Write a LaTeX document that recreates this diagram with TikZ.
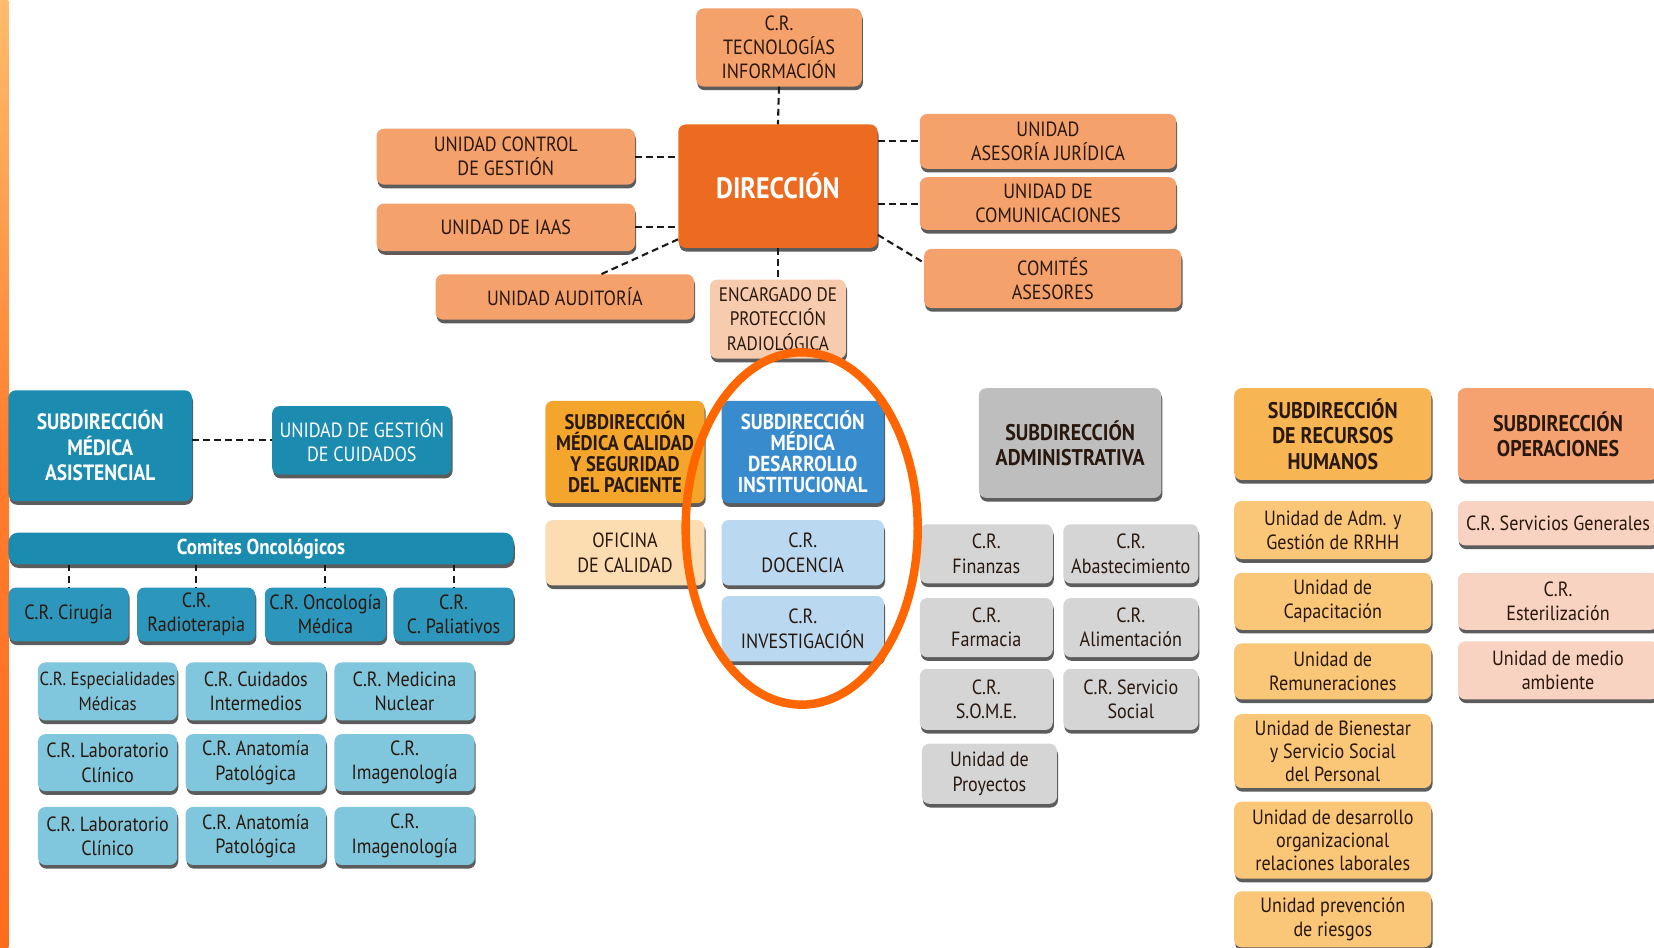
\documentclass[tikz,border=0pt]{standalone}
\usepackage{fontspec}
\setmainfont{PT Sans}[FakeStretch=0.88]
\usetikzlibrary{shadows}

\begin{document}
\begin{tikzpicture}[x=1pt, y=-1pt, line cap=round, line join=round,
  box/.style={rectangle, rounded corners=7pt, align=center, inner sep=1pt, text=txt,
    font=\fontsize{19.5}{23}\selectfont,
    drop shadow={shadow xshift=1pt, shadow yshift=-3.5pt, fill=black!85, opacity=0.75}},
  head/.style={box, font=\bfseries\fontsize{21}{24}\selectfont},
  wh/.style 2 args={minimum width=#1, minimum height=#2},
  link/.style={line width=2pt, dash pattern=on 6.5pt off 4pt, black!90, line cap=butt}]
  \definecolor{txt}{RGB}{40,24,14}
  \definecolor{dirsoft}{RGB}{244,161,108}
  \definecolor{dirmain}{RGB}{237,107,33}
  \definecolor{dirpale}{RGB}{247,203,174}
  \definecolor{tealdark}{RGB}{28,139,176}
  \definecolor{tealmid}{RGB}{44,150,188}
  \definecolor{teallight}{RGB}{128,199,222}
  \definecolor{calgold}{RGB}{244,166,44}
  \definecolor{calpale}{RGB}{252,221,178}
  \definecolor{desblue}{RGB}{56,139,205}
  \definecolor{despale}{RGB}{186,216,240}
  \definecolor{admgray}{RGB}{190,190,190}
  \definecolor{admpale}{RGB}{213,213,213}
  \definecolor{rhgold}{RGB}{247,181,84}
  \definecolor{rhpale}{RGB}{250,198,120}
  \definecolor{opsalmon}{RGB}{245,162,112}
  \definecolor{oppale}{RGB}{249,211,193}
  \definecolor{ringorange}{RGB}{255,102,0}
  \definecolor{striptop}{RGB}{255,188,108}
  \definecolor{stripbot}{RGB}{255,108,28}
  \useasboundingbox[fill=white] (0,0) rectangle (1568,898);
  \shade[top color=striptop, bottom color=stripbot, middle color=stripbot!80!striptop] (0,0) rectangle (8,898);

  % direccion
  \node[box, wh={157}{74}, fill=dirsoft] (ti) at (738.5,45) {C.R.\\TECNOLOGÍAS\\INFORMACIÓN};
  \node[box, wh={189}{117}, fill=dirmain, text=white, font=\bfseries\fontsize{28}{30}\selectfont] (dir) at (737.5,176.5) {DIRECCIÓN};
  \node[box, wh={245}{53}, fill=dirsoft] (ucg) at (479.5,148.5) {UNIDAD CONTROL\\DE GESTIÓN};
  \node[box, wh={245}{45}, fill=dirsoft] (iaas) at (479.5,215.5) {UNIDAD DE IAAS};
  \node[box, wh={245}{43}, fill=dirsoft] (aud) at (535.5,281.5) {UNIDAD AUDITORÍA};
  \node[box, wh={129}{75}, fill=dirpale, font=\fontsize{18.5}{23.5}\selectfont] (epr) at (737.5,302.5) {ENCARGADO DE\\PROTECCIÓN\\RADIOLÓGICA};
  \node[box, wh={243}{52}, fill=dirsoft] (uaj) at (993.5,134) {UNIDAD\\ASESORÍA JURÍDICA};
  \node[box, wh={243}{50}, fill=dirsoft] (ucom) at (993.5,193) {UNIDAD DE\\COMUNICACIONES};
  \node[box, wh={244}{56}, fill=dirsoft] (ca) at (998,264) {COMITÉS\\ASESORES};

  \draw[link] (ti.south) -- (dir.north);
  \draw[link] (ucg.east) -- (ucg.east -| dir.west);
  \draw[link] (iaas.east) -- (iaas.east -| dir.west);
  \draw[link] (aud.32) -- (dir.208);
  \draw[link] (dir.east |- uaj.west) -- (uaj.west);
  \draw[link] (dir.east |- ucom.west) -- (ucom.west);
  \draw[link] (dir.334) -- (ca.173);
  \draw[link] (dir.south) -- (epr.north);

  % asistencial
  \node[head, wh={174}{105}, fill=tealdark, text=white] (sma) at (95,422.5) {SUBDIRECCIÓN\\MÉDICA\\ASISTENCIAL};
  \node[box, wh={170}{65}, fill=tealdark, text=white] (ugc) at (343,417.5) {UNIDAD DE GESTIÓN\\DE CUIDADOS};
  \draw[link] (sma.east |- ugc.west) -- (ugc.west);
  \node[box, wh={479}{30}, rounded corners=9pt, fill=tealdark, text=white, font=\bfseries\fontsize{20.5}{22}\selectfont] (como) at (247.5,520) {Comites Oncológicos};
  \node[box, wh={114}{51}, fill=tealmid] (cir) at (65,582.5) {C.R. Cirugía};
  \node[box, wh={112}{51}, fill=tealmid] (rad) at (186,582.5) {C.R.\\Radioterapia};
  \node[box, wh={115}{51}, fill=tealmid] (onc) at (308.5,582.5) {C.R. Oncología\\Médica};
  \node[box, wh={114}{51}, fill=tealmid] (pal) at (430,582.5) {C.R.\\C. Paliativos};
  \draw[link] (como.south -| cir.north) -- (cir.north);
  \draw[link] (como.south -| rad.north) -- (rad.north);
  \draw[link] (como.south -| onc.north) -- (onc.north);
  \draw[link] (como.south -| pal.north) -- (pal.north);

  \node[box, wh={132}{55}, fill=teallight, font=\fontsize{18}{23}\selectfont] (esp) at (102,655.5) {C.R. Especialidades\\Médicas};
  \node[box, wh={133}{55}, fill=teallight] (cui) at (242.5,655.5) {C.R. Cuidados\\Intermedios};
  \node[box, wh={133}{55}, fill=teallight] (nuc) at (383.5,655.5) {C.R. Medicina\\Nuclear};
  \node[box, wh={132}{54}, fill=teallight] (laba) at (102,723) {C.R. Laboratorio\\Clínico};
  \node[box, wh={133}{54}, fill=teallight] (anaa) at (242.5,723) {C.R. Anatomía\\Patológica};
  \node[box, wh={133}{54}, fill=teallight] (imga) at (383.5,723) {C.R.\\Imagenología};
  \node[box, wh={132}{55}, fill=teallight] (labb) at (102,792.5) {C.R. Laboratorio\\Clínico};
  \node[box, wh={133}{55}, fill=teallight] (anab) at (242.5,792.5) {C.R. Anatomía\\Patológica};
  \node[box, wh={133}{55}, fill=teallight] (imgb) at (383.5,792.5) {C.R.\\Imagenología};

  % calidad y desarrollo
  \node[head, wh={151}{97}, fill=calgold, font=\bfseries\fontsize{20}{20}\selectfont] (smc) at (592.5,428.5) {SUBDIRECCIÓN\\MÉDICA CALIDAD\\Y SEGURIDAD\\DEL PACIENTE};
  \node[box, wh={151}{62}, fill=calpale] (ofc) at (592.5,524) {OFICINA\\DE CALIDAD};
  \node[head, wh={154}{97}, fill=desblue, text=white, font=\bfseries\fontsize{20.5}{20}\selectfont] (smd) at (761,428.5) {SUBDIRECCIÓN\\MÉDICA\\DESARROLLO\\INSTITUCIONAL};
  \node[box, wh={154}{62}, fill=despale] (doc) at (761,524) {C.R.\\DOCENCIA};
  \node[box, wh={154}{62}, fill=despale] (inv) at (761,596) {C.R.\\INVESTIGACIÓN};

  % administrativa
  \node[head, wh={173}{104}, fill=admgray, font=\bfseries\fontsize{21.5}{24}\selectfont] (sad) at (1014.5,420) {SUBDIRECCIÓN\\ADMINISTRATIVA};
  \node[box, wh={126}{56}, fill=admpale] (fin) at (935,525) {C.R.\\Finanzas};
  \node[box, wh={128}{56}, fill=admpale] (aba) at (1072,525) {C.R.\\Abastecimiento};
  \node[box, wh={126}{56}, fill=admpale] (far) at (935,595) {C.R.\\Farmacia};
  \node[box, wh={128}{56}, fill=admpale] (ali) at (1072,595) {C.R.\\Alimentación};
  \node[box, wh={126}{58}, fill=admpale] (some) at (935,663) {C.R.\\S.O.M.E.};
  \node[box, wh={128}{58}, fill=admpale] (sso) at (1072,663) {C.R. Servicio\\Social};
  \node[box, wh={128}{57}, fill=admpale] (pro) at (938,733.5) {Unidad de\\Proyectos};

  % recursos humanos
  \node[head, wh={187}{87}, fill=rhgold, font=\bfseries\fontsize{21.5}{24}\selectfont] (srh) at (1263.5,411.5) {SUBDIRECCIÓN\\DE RECURSOS\\HUMANOS};
  \node[box, wh={187}{55}, fill=rhpale] (rha) at (1263.5,502.5) {Unidad de Adm. y\\Gestión de RRHH};
  \node[box, wh={187}{54}, fill=rhpale] (rhb) at (1263.5,570) {Unidad de\\Capacitación};
  \node[box, wh={187}{53}, fill=rhpale] (rhc) at (1263.5,636.5) {Unidad de\\Remuneraciones};
  \node[box, wh={187}{70}, fill=rhpale, font=\fontsize{19.5}{22}\selectfont] (rhd) at (1263.5,712) {Unidad de Bienestar\\y Servicio Social\\del Personal};
  \node[box, wh={187}{73}, fill=rhpale, font=\fontsize{19.5}{22}\selectfont] (rhe) at (1263.5,796.5) {Unidad de desarrollo\\organizacional\\relaciones laborales};
  \node[box, wh={187}{53}, fill=rhpale] (rhf) at (1263.5,871.5) {Unidad prevención\\de riesgos};

  % operaciones
  \node[head, wh={190}{87}, fill=opsalmon, font=\bfseries\fontsize{21.5}{24}\selectfont] (sop) at (1477,411.5) {SUBDIRECCIÓN\\OPERACIONES};
  \node[box, wh={190}{42}, fill=oppale] (opa) at (1477,496) {C.R. Servicios Generales};
  \node[box, wh={190}{54}, fill=oppale] (opb) at (1477,570) {C.R.\\Esterilización};
  \node[box, wh={190}{55}, fill=oppale] (opc) at (1477,635.5) {Unidad de medio\\ambiente};

  \draw[ringorange, line width=8pt] (760,501) ellipse [x radius=110, y radius=167];
\end{tikzpicture}
\end{document}
